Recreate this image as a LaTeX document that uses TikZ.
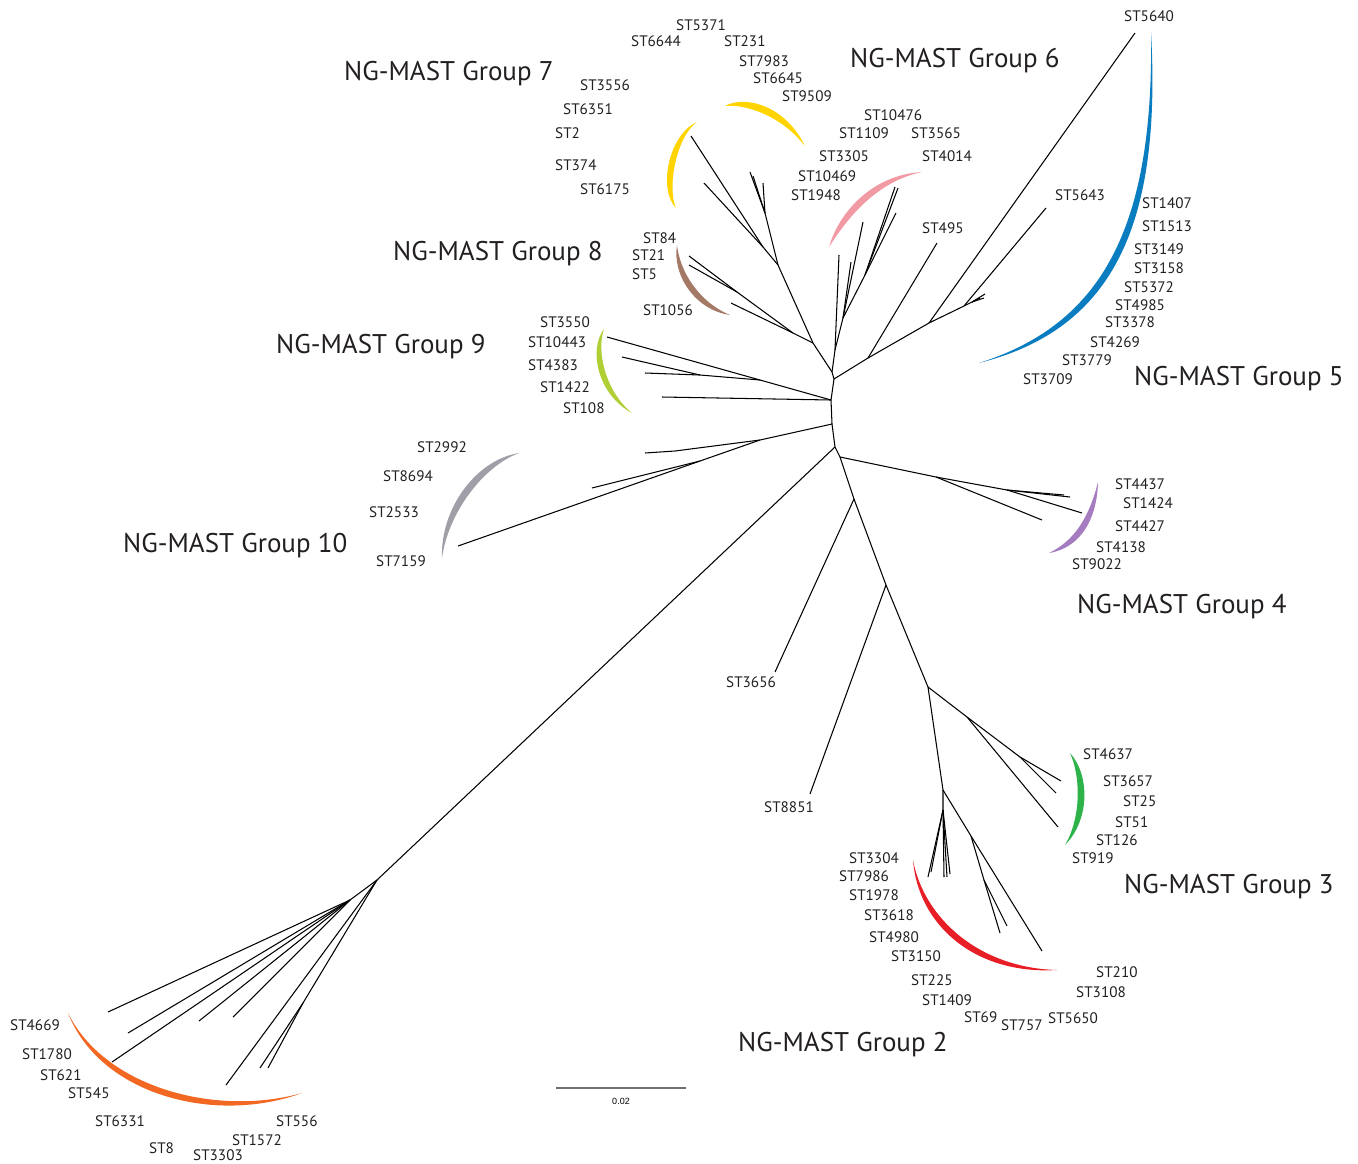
\documentclass[tikz,border=0pt]{standalone}
\usepackage{fontspec}
\setmainfont{PT Sans}
\newfontfamily\barfont{Liberation Sans}
\usetikzlibrary{positioning}
\definecolor{ink}{HTML}{231F20}
\definecolor{gyellow}{HTML}{FFD400}
\definecolor{gpink}{HTML}{F29AA4}
\definecolor{gblue}{HTML}{0A7DC1}
\definecolor{gbrown}{HTML}{A47A66}
\definecolor{glime}{HTML}{AFCF35}
\definecolor{ggrey}{HTML}{A09FA8}
\definecolor{gpurple}{HTML}{A57CBF}
\definecolor{ggreen}{HTML}{2EB34B}
\definecolor{gred}{HTML}{E81E27}
\definecolor{gorange}{HTML}{F26822}
\definecolor{barcol}{HTML}{707070}

\begin{document}
\begin{tikzpicture}[x=1pt,y=-1pt,
  br/.style={draw=black,line width=1.05pt},
  lbl/.style={font=\fontsize{15.2}{15}\selectfont,text=ink,anchor=base west,inner sep=0pt},
  grp/.style={font=\fontsize{27}{27}\selectfont,text=ink,anchor=base west,inner sep=0pt}]

\useasboundingbox (0,0) rectangle (1358,1163);

% ---- backbone
\coordinate (n0) at (832,372);
\coordinate (n1) at (834,379);
\coordinate (n2) at (831,400);
\coordinate (n3) at (832,424);
\coordinate (n4) at (835,447);
\coordinate (n5) at (840,457);
\coordinate (n6) at (854,499);
\coordinate (n7) at (886,585);
\coordinate (n8) at (928,687);
\draw[br] (n0) -- (n1) -- (n2) -- (n3) -- (n4) -- (n5) -- (n6) -- (n7) -- (n8);

% ---- groups 7 and 8
\coordinate (g78) at (813,343);
\coordinate (g7) at (778,265);
\coordinate (g7a) at (763,247);
\coordinate (g7b) at (765,213);
\coordinate (t7a) at (691,136);
\coordinate (t7b) at (704,183);
\coordinate (t7c) at (763,183);
\coordinate (t7d) at (750,172);
\coordinate (t7e) at (753,176);
\draw[br] (n0) -- (g78) -- (g7) -- (g7a) -- (t7a);
\draw[br] (g7a) -- (t7b);
\draw[br] (g7) -- (g7b) -- (t7c);
\draw[br] (g7b) -- (t7d);
\draw[br] (g7b) -- (t7e);
\coordinate (g8) at (793,333);
\coordinate (g8b) at (737,292);
\coordinate (t8a) at (731,303);
\coordinate (t8b) at (689,256);
\coordinate (t8c) at (689,265);
\draw[br] (g78) -- (g8) -- (t8a);
\draw[br] (g8) -- (g8b) -- (t8b);
\draw[br] (g8b) -- (t8c);

% ---- group 6
\coordinate (p0) at (835,350);
\coordinate (p1) at (843,318);
\coordinate (p3) at (865,275);
\coordinate (t6a) at (839,255);
\coordinate (t6b) at (851,262);
\coordinate (t6c) at (863,222);
\coordinate (t6e) at (895,187);
\coordinate (t6f) at (898,188);
\coordinate (t6g) at (896,213);
\draw[br] (n0) -- (p0) -- (t6a);
\draw[br] (p0) -- (p1) -- (t6b);
\draw[br] (p1) -- (t6c);
\draw[br] (p1) -- (p3) -- (t6e);
\draw[br] (p3) -- (t6f);
\draw[br] (p3) -- (t6g);

% ---- group 5
\coordinate (r0) at (868,358);
\coordinate (r1) at (929,323);
\coordinate (r2) at (964,306);
\coordinate (r3) at (972,302);
\coordinate (t495) at (937,243);
\coordinate (t5640) at (1135,33);
\coordinate (t5643) at (1046,208);
\coordinate (t5a) at (985,294);
\coordinate (t5b) at (984,298);
\coordinate (t5c) at (980,298);
\draw[br] (n1) -- (r0) -- (t495);
\draw[br] (r0) -- (r1) -- (t5640);
\draw[br] (r1) -- (r2) -- (t5643);
\draw[br] (r2) -- (r3) -- (t5a);
\draw[br] (r3) -- (t5b);
\draw[br] (r3) -- (t5c);

% ---- group 9
\coordinate (g9a) at (760,380);
\coordinate (g9c) at (700,375);
\coordinate (t9a) at (607,337);
\coordinate (t9b) at (622,357);
\coordinate (t9c) at (645,373);
\coordinate (t9d) at (662,397);
\draw[br] (n2) -- (g9a) -- (t9a);
\draw[br] (g9a) -- (g9c) -- (t9b);
\draw[br] (g9c) -- (t9c);
\draw[br] (n2) -- (t9d);

% ---- group 10
\coordinate (g10a) at (760,440);
\coordinate (g10b) at (675,451);
\coordinate (g10c) at (700,461);
\coordinate (t10a) at (645,453);
\coordinate (t10c) at (592,488);
\coordinate (t10d) at (458,546);
\draw[br] (n3) -- (g10a) -- (g10b) -- (t10a);
\draw[br] (g10a) -- (g10c) -- (t10c);
\draw[br] (g10c) -- (t10d);

% ---- group 1
\coordinate (g1a) at (377,880);
\coordinate (g1b) at (350,900);
\coordinate (g1c) at (303,1003);
\coordinate (t1a) at (108,1012);
\coordinate (t1b) at (128,1033);
\coordinate (t1c) at (112,1062);
\coordinate (t1d) at (199,1021);
\coordinate (t1e) at (233,1017);
\coordinate (t1f) at (226,1085);
\coordinate (t1g) at (260,1068);
\coordinate (t1h) at (268,1068);
\draw[br] (n4) -- (g1a) -- (g1b) -- (t1a);
\draw[br] (g1b) -- (t1b);
\draw[br] (g1b) -- (t1c);
\draw[br] (g1b) -- (t1d);
\draw[br] (g1b) -- (t1e);
\draw[br] (g1a) -- (t1f);
\draw[br] (g1a) -- (g1c) -- (t1g);
\draw[br] (g1c) -- (t1h);

% ---- group 4
\coordinate (g4a) at (936,477);
\coordinate (g4b) at (1007,490);
\coordinate (t4a) at (1042,520);
\coordinate (t4b) at (1070,497);
\coordinate (t4c) at (1064,495);
\coordinate (t4d) at (1082,513);
\draw[br] (n5) -- (g4a) -- (t4a);
\draw[br] (g4a) -- (g4b) -- (t4b);
\draw[br] (g4b) -- (t4c);
\draw[br] (g4b) -- (t4d);

% ---- single lines
\coordinate (t3656) at (775,672);
\coordinate (t8851) at (810,794);
\draw[br] (n6) -- (t3656);
\draw[br] (n7) -- (t8851);

% ---- group 3
\coordinate (g3a) at (967,717);
\coordinate (g3b) at (1020,757);
\coordinate (t3a) at (1061,781);
\coordinate (t3b) at (1056,793);
\coordinate (t3c) at (1058,827);
\draw[br] (n8) -- (g3a) -- (g3b) -- (t3a);
\draw[br] (g3b) -- (t3b);
\draw[br] (g3a) -- (t3c);

% ---- group 2
\coordinate (g2) at (943,790);
\coordinate (g2a) at (943,810);
\coordinate (g2b) at (971,836);
\coordinate (g2c) at (984,880);
\coordinate (t2a) at (928,877);
\coordinate (t2b) at (931,872);
\coordinate (t2c) at (947,877);
\coordinate (t2d) at (944,877);
\coordinate (t2e) at (950,874);
\coordinate (t2f) at (1042,951);
\coordinate (t2g) at (1000,933);
\coordinate (t2h) at (1007,926);
\draw[br] (n8) -- (g2) -- (g2a) -- (t2a);
\foreach \t in {t2b,t2c,t2d,t2e} \draw[br] (g2a) -- (\t);
\draw[br] (g2) -- (g2b) -- (t2f);
\draw[br] (g2b) -- (g2c) -- (t2g);
\draw[br] (g2c) -- (t2h);

% ---- coloured arcs
\fill[gblue] (1151,32) .. controls (1162,230) and (1110,330) .. (979,363) .. controls (1102,324) and (1154,228) .. cycle;
\fill[gpink] (829,247) .. controls (838,215) and (870,175) .. (922,172) .. controls (874,182) and (845,222) .. cycle;
\fill[gyellow] (697,122) .. controls (668,135) and (658,190) .. (676,208) .. controls (667,188) and (676,137) .. cycle;
\fill[gyellow] (725,106) .. controls (745,95) and (785,105) .. (805,146) .. controls (779,113) and (742,104) .. cycle;
\fill[gbrown] (677,245) .. controls (672,275) and (695,310) .. (730,315) .. controls (699,302) and (680,272) .. cycle;
\fill[glime] (604,329) .. controls (588,350) and (598,395) .. (632,413) .. controls (606,392) and (596,352) .. cycle;
\fill[ggrey] (519,453) .. controls (475,460) and (440,510) .. (442,558) .. controls (448,514) and (482,467) .. cycle;
\fill[gpurple] (1098,482) .. controls (1097,520) and (1080,548) .. (1049,553) .. controls (1074,541) and (1089,518) .. cycle;
\fill[ggreen] (1070,753) .. controls (1090,775) and (1090,820) .. (1065,845) .. controls (1081,818) and (1081,777) .. cycle;
\fill[gred] (913,860) .. controls (918,925) and (975,975) .. (1057,970) .. controls (980,968) and (924,919) .. cycle;
\fill[gorange] (68,1013) .. controls (100,1095) and (215,1125) .. (302,1093) .. controls (217,1117) and (105,1088) .. cycle;

% ---- ST labels
\foreach \x/\y/\t in {676/25/5371, 631/41/6644, 724/41/231, 739/61/7983, 753/78/6645,
  782/96/9509, 580/85/3556, 563/109/6351, 555/133/2, 555/165/374, 580/189/6175,
  864/115/10476, 839/133/1109, 911/133/3565, 819/156/3305, 922/156/4014,
  798/176/10469, 791/195/1948, 922/228/495, 1124/16/5640, 1055/195/5643,
  1142/203/1407, 1142/226/1513, 1134/249/3149, 1134/268/3158, 1124/287/5372,
  1115/305/4985, 1105/322/3378, 1090/342/4269, 1062/360/3779, 1023/379/3709,
  643/238/84, 632/255/21, 632/274/5, 643/310/1056,
  540/322/3550, 528/342/10443, 528/365/4383, 540/387/1422, 563/408/108,
  417/447/2992, 383/476/8694, 369/512/2533, 376/561/7159,
  1115/484/4437, 1123/503/1424, 1115/526/4427, 1096/547/4138, 1072/564/9022,
  726/682/3656, 764/807/8851,
  1083/754/4637, 1103/781/3657, 1123/801/25, 1115/822/51, 1096/840/126, 1072/858/919,
  849/858/3304, 839/876/7986, 849/895/1978, 864/915/3618, 869/937/4980, 891/956/3150,
  911/980/225, 922/1000/1409, 964/1017/69, 1001/1025/757, 1048/1018/5650,
  1096/972/210, 1076/992/3108,
  10/1025/4669, 22/1054/1780, 40/1075/621, 68/1093/545, 95/1121/6331,
  149/1148/8, 193/1155/3303, 232/1140/1572, 276/1121/556}
  \node[lbl] (st\t) at (\x,{\y+5.5}) {ST\t};

% ---- group names
\foreach \x/\y/\g in {1134/376/5, 850/58/6, 344/71/7, 393/251/8, 276/344/9,
  123/543/10, 1077/604/4, 1124/884/3, 738/1042/2}
  \node[grp] (grp\g) at (\x,{\y+9.5}) {NG-MAST Group \g};

% ---- scale bar
\coordinate (sb1) at (556,1088);
\coordinate (sb2) at (686,1088);
\draw[barcol,line width=1.5pt] (sb1) -- (sb2);
\node[font=\barfont\fontsize{9}{9}\selectfont,inner sep=0pt] (sbl) at (621,1101) {0.02};
\end{tikzpicture}
\end{document}
